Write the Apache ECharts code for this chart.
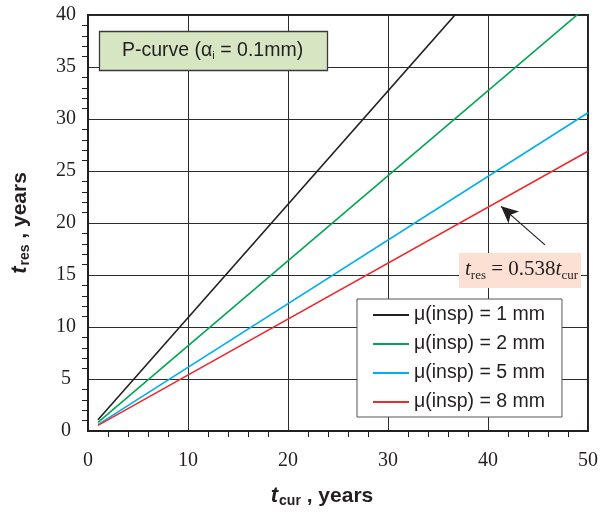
<!DOCTYPE html>
<html>
<head>
<meta charset="utf-8">
<script src="https://cdn.jsdelivr.net/npm/echarts@6/dist/echarts.min.js"></script>
<style>
  html, body { margin: 0; padding: 0; background: #fff; }
  #chart { width: 601px; height: 513px; }
</style>
</head>
<body>
<div id="chart"></div>
<script>
// Residual life t_res versus current age t_cur, straight lines from t = 1 to t = 50 years
const tCur = [1, 50];
const seriesNames = ['μ(insp) = 1 mm', 'μ(insp) = 2 mm', 'μ(insp) = 5 mm', 'μ(insp) = 8 mm'];
const tRes1mm = [1.09, 54.5];
const tRes2mm = [0.82, 40.9];
const tRes5mm = [0.61, 30.6];
const tRes8mm = [0.54, 26.9];
const seriesColors = ['#231f20', '#00a651', '#00aeef', '#ee2a2f'];
const xTicks = [0, 10, 20, 30, 40, 50];
const yTicks = [0, 5, 10, 15, 20, 25, 30, 35, 40];
// arrow from the equation label to the 8 mm line
const arrowFrom = [45.7, 17.9];
const arrowTo = [41.3, 21.6];

const allValues = [tRes1mm, tRes2mm, tRes5mm, tRes8mm];

const chart = echarts.init(document.getElementById('chart'), null, { renderer: 'canvas' });

const serifFont = '"Liberation Serif", "Times New Roman", serif';
const sansFont = '"Liberation Sans", Arial, sans-serif';

const series = seriesNames.map((name, i) => ({
  name: name,
  type: 'line',
  data: tCur.map((t, j) => [t, allValues[i][j]]),
  symbol: 'none',
  clip: true,
  lineStyle: { color: seriesColors[i], width: 1.6 },
  itemStyle: { color: seriesColors[i] },
  z: 3
}));

series[3].markLine = {
  silent: true,
  symbol: ['none', 'arrow'],
  symbolSize: [12, 17],
  label: { show: false },
  lineStyle: { color: '#231f20', width: 1.2, type: 'solid' },
  data: [[{ coord: arrowFrom }, { coord: arrowTo }]]
};

const axisNameRich = {
  t: { fontFamily: sansFont, fontSize: 22, fontWeight: 'bold', fontStyle: 'italic', color: '#231f20' },
  s: { fontFamily: sansFont, fontSize: 14, fontWeight: 'bold', color: '#231f20', padding: [10, 0, 0, 1] },
  n: { fontFamily: sansFont, fontSize: 21, fontWeight: 'bold', color: '#231f20' }
};

const option = {
  animation: false,
  backgroundColor: '#ffffff',
  grid: {
    left: 88, right: 11, top: 15, bottom: 81,
    show: true, borderColor: '#231f20', borderWidth: 2, backgroundColor: 'transparent'
  },
  title: [
    {
      text: 'P-curve (α{s|i} = 0.1mm)',
      left: 99, top: 31,
      backgroundColor: '#d6e6c3',
      borderColor: '#3a3a3a', borderWidth: 1.3,
      padding: [10, 25, 10, 23],
      textStyle: {
        fontFamily: sansFont, fontSize: 19.5, fontWeight: 'normal', color: '#231f20',
        rich: {
          s: { fontFamily: sansFont, fontSize: 11, color: '#231f20', padding: [9, 0, 0, 0] }
        }
      }
    },
    {
      text: '{t|t}{s|res}{m| = 0.538}{t|t}{s|cur}',
      left: 459, top: 251,
      backgroundColor: '#fce0d3',
      padding: [6, 3, 6, 6],
      textStyle: {
        fontFamily: serifFont, fontSize: 21, fontWeight: 'normal', color: '#231f20',
        rich: {
          t: { fontFamily: serifFont, fontSize: 21, fontStyle: 'italic', color: '#231f20' },
          m: { fontFamily: serifFont, fontSize: 21, color: '#231f20' },
          s: { fontFamily: serifFont, fontSize: 13, color: '#231f20', padding: [12, 0, 0, 0] }
        }
      }
    }
  ],
  legend: {
    orient: 'vertical',
    left: 357, top: 299,
    backgroundColor: '#ffffff',
    borderColor: '#555555', borderWidth: 1,
    padding: [6, 17, 5, 16],
    icon: 'rect',
    itemWidth: 36, itemHeight: 2, itemGap: 9,
    textStyle: { fontFamily: sansFont, fontSize: 19.5, lineHeight: 19, color: '#231f20' },
    data: seriesNames
  },
  xAxis: {
    type: 'value',
    min: xTicks[0], max: xTicks[xTicks.length - 1], interval: 10,
    name: '{t|t}{s|cur}{n| , years}',
    nameLocation: 'middle', nameGap: 53,
    nameTextStyle: { padding: [0, 32, 0, 0], rich: axisNameRich },
    axisLine: { show: true, lineStyle: { color: '#231f20', width: 2 } },
    axisTick: { show: false },
    minorTick: { show: true, splitNumber: 5, length: 6, lineStyle: { color: '#231f20', width: 1 } },
    splitLine: { show: true, lineStyle: { color: '#2b2b2b', width: 1 } },
    axisLabel: {
      margin: 20, fontFamily: serifFont, fontSize: 20, color: '#231f20',
      formatter: v => (xTicks.indexOf(v) >= 0 ? String(v) : '')
    }
  },
  yAxis: {
    type: 'value',
    min: yTicks[0], max: yTicks[yTicks.length - 1], interval: 5,
    name: '{t|t}{s|res}{n| , years}',
    nameLocation: 'middle', nameGap: 56, nameRotate: 90,
    nameTextStyle: { rich: axisNameRich },
    axisLine: { show: true, lineStyle: { color: '#231f20', width: 2 } },
    axisTick: { show: false },
    minorTick: { show: true, splitNumber: 5, length: 6, lineStyle: { color: '#231f20', width: 1 } },
    splitLine: { show: true, lineStyle: { color: '#2b2b2b', width: 1 } },
    axisLabel: {
      margin: 22, align: 'center', fontFamily: serifFont, fontSize: 20, color: '#231f20',
      formatter: v => (yTicks.indexOf(v) >= 0 ? String(v) : '')
    }
  },
  series: series
};

chart.setOption(option);
</script>
</body>
</html>
